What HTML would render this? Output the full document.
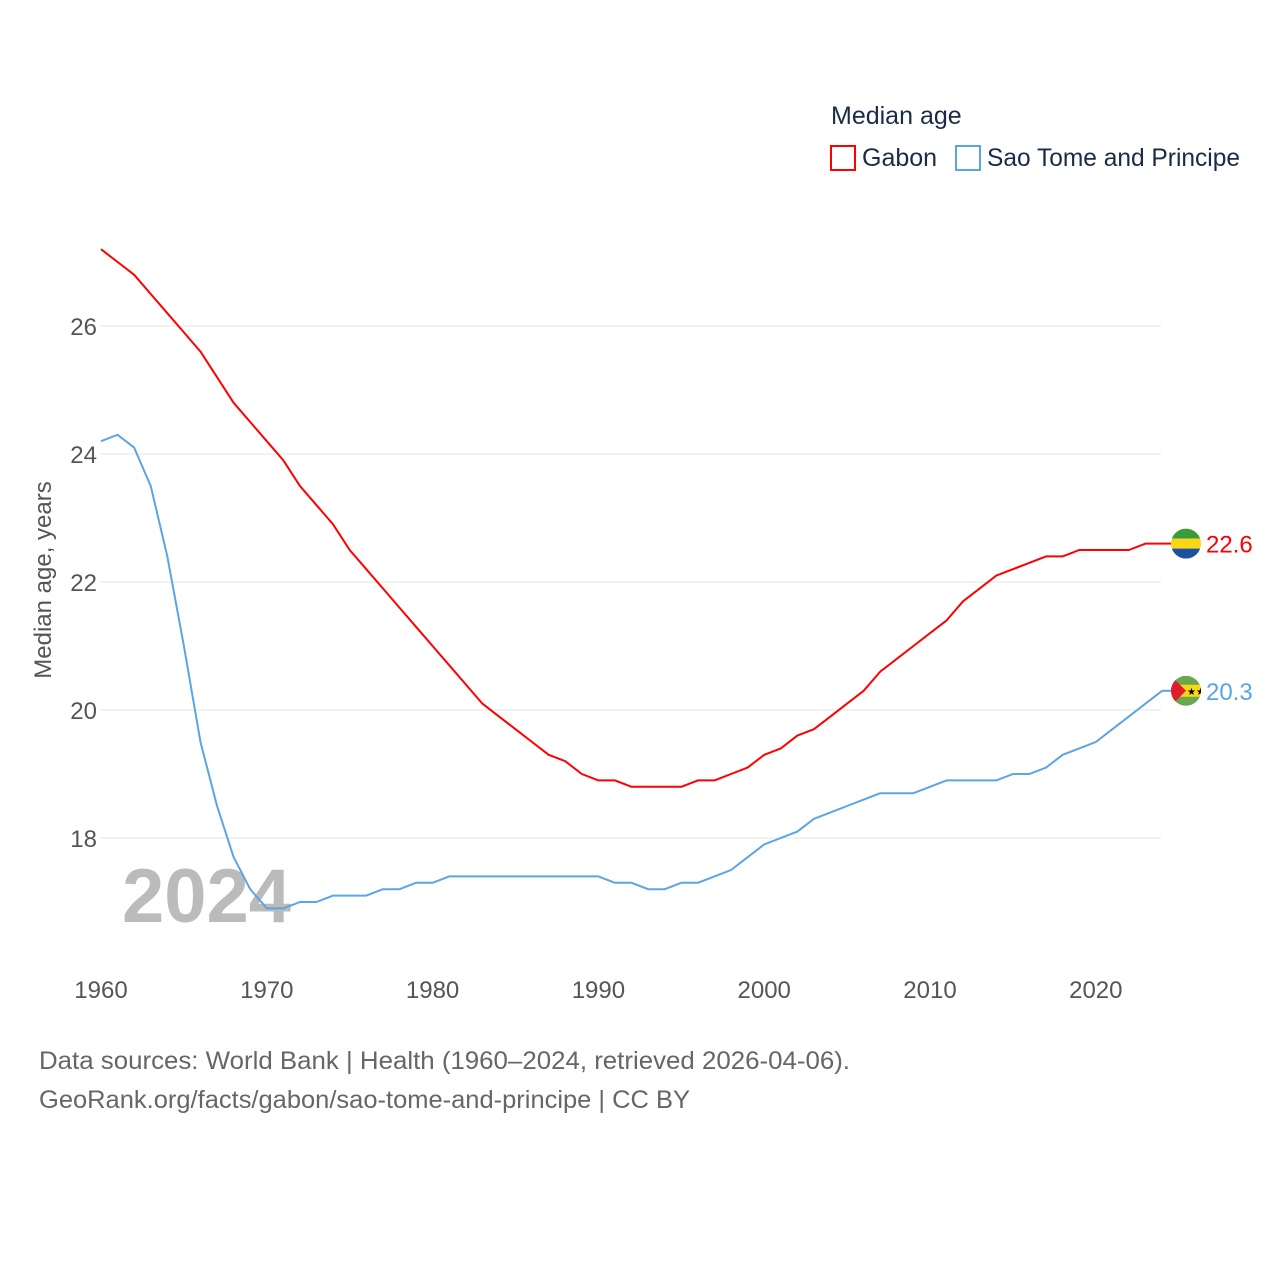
<!DOCTYPE html>
<html><head><meta charset="utf-8"><style>
body{margin:0;background:#fff;font-family:"Liberation Sans",sans-serif;}
svg text{font-family:"Liberation Sans",sans-serif;}
</style></head><body>
<svg id="chart" width="1280" height="1280" xmlns="http://www.w3.org/2000/svg">
<text x="831" y="124" font-size="25" fill="#1a2b4a">Median age</text>
<g><rect x="831" y="146" width="24" height="24" fill="none" stroke="#ff0000" stroke-width="2"/><text x="862" y="166" font-size="25" fill="#1a2b4a">Gabon</text></g>
<g><rect x="956" y="146" width="24" height="24" fill="none" stroke="#5ba4e6" stroke-width="2"/><text x="987" y="166" font-size="25" fill="#1a2b4a" textLength="253" lengthAdjust="spacingAndGlyphs">Sao Tome and Principe</text></g>
<text transform="translate(51,580) rotate(-90)" text-anchor="middle" font-size="24" fill="#555">Median age, years</text>
<g id="grid"></g><g id="yticks"></g><g id="xticks"></g>
<text x="122" y="922" font-size="76" font-weight="bold" fill="#bbb">2024</text>
<g id="lines"></g>
<text x="39" y="1069" font-size="25" fill="#666" textLength="811" lengthAdjust="spacingAndGlyphs">Data sources: World Bank | Health (1960–2024, retrieved 2026-04-06).</text>
<text x="39" y="1108" font-size="25" fill="#666" textLength="651" lengthAdjust="spacingAndGlyphs">GeoRank.org/facts/gabon/sao-tome-and-principe | CC BY</text>
</svg>
<script>
const years=[];for(let y=1960;y<=2024;y++)years.push(y);
const gabon=[27.2,27.0,26.8,26.5,26.2,25.9,25.6,25.2,24.8,24.5,24.2,23.9,23.5,23.2,22.9,22.5,22.2,21.9,21.6,21.3,21.0,20.7,20.4,20.1,19.9,19.7,19.5,19.3,19.2,19.0,18.9,18.9,18.8,18.8,18.8,18.8,18.9,18.9,19.0,19.1,19.3,19.4,19.6,19.7,19.9,20.1,20.3,20.6,20.8,21.0,21.2,21.4,21.7,21.9,22.1,22.2,22.3,22.4,22.4,22.5,22.5,22.5,22.5,22.6,22.6];
const stp=[24.2,24.3,24.1,23.5,22.4,21.0,19.5,18.5,17.7,17.2,16.9,16.9,17.0,17.0,17.1,17.1,17.1,17.2,17.2,17.3,17.3,17.4,17.4,17.4,17.4,17.4,17.4,17.4,17.4,17.4,17.4,17.3,17.3,17.2,17.2,17.3,17.3,17.4,17.5,17.7,17.9,18.0,18.1,18.3,18.4,18.5,18.6,18.7,18.7,18.7,18.8,18.9,18.9,18.9,18.9,19.0,19.0,19.1,19.3,19.4,19.5,19.7,19.9,20.1,20.3];
const yTicks=[18,20,22,24,26];
const xTicks=[1960,1970,1980,1990,2000,2010,2020];
const NS="http://www.w3.org/2000/svg";
const X=y=>101+(y-1960)*16.58, Y=v=>326+(26-v)*64;
function mk(t,a,p){const e=document.createElementNS(NS,t);for(const k in a)e.setAttribute(k,a[k]);document.getElementById(p).appendChild(e);return e;}
yTicks.forEach(v=>{const l=mk('line',{x1:100,x2:1161,y1:Y(v),y2:Y(v),stroke:'#e6e6e6','stroke-width':1},'grid');


const t=mk('text',{x:97,y:Y(v)+9,'text-anchor':'end','font-size':24,fill:'#555'},'yticks');t.textContent=v;

});
xTicks.forEach(v=>{const t=mk('text',{x:X(v),y:998,'text-anchor':'middle','font-size':24,fill:'#555'},'xticks');t.textContent=v;

});
function series(d,c,name,flag){
const p=mk('polyline',{points:d.map((v,i)=>X(years[i])+','+Y(v)).join(' '),fill:'none',stroke:c,'stroke-width':2,'stroke-linejoin':'round'},'lines');


const last=d[d.length-1],cy=Y(last);
const g=mk('g',{},'lines');


g.innerHTML=flag(1186,cy);
const t=mk('text',{x:1206,y:cy+9,'font-size':24,fill:c},'lines');t.textContent=last.toFixed(1);

}
series(gabon,'#ff0000','gabon',(x,y)=>`<clipPath id="cg"><circle cx="${x}" cy="${y}" r="15"/></clipPath><g clip-path="url(#cg)"><rect x="${x-15}" y="${y-15}" width="30" height="10" fill="#3a9b3a"/><rect x="${x-15}" y="${y-5}" width="30" height="10" fill="#f9d616"/><rect x="${x-15}" y="${y+5}" width="30" height="10" fill="#1e50a2"/></g><line x1="1162" x2="1171" y1="${y}" y2="${y}" stroke="#ff0000" stroke-width="2"/>`);
series(stp,'#5ba4e6','sao-tome',(x,y)=>`<clipPath id="cs"><circle cx="${x}" cy="${y}" r="15"/></clipPath><g clip-path="url(#cs)"><rect x="${x-15}" y="${y-15}" width="30" height="30" fill="#6aa84f"/><rect x="${x-15}" y="${y-6}" width="30" height="12" fill="#f9d616"/><polygon points="${x-15},${y-15} ${x},${y} ${x-15},${y+15}" fill="#e11d2b"/><text x="${x+1}" y="${y+4}" font-size="10" fill="#000">★★</text></g><line x1="1162" x2="1171" y1="${y}" y2="${y}" stroke="#5ba4e6" stroke-width="2"/>`);
</script>
</body></html>
